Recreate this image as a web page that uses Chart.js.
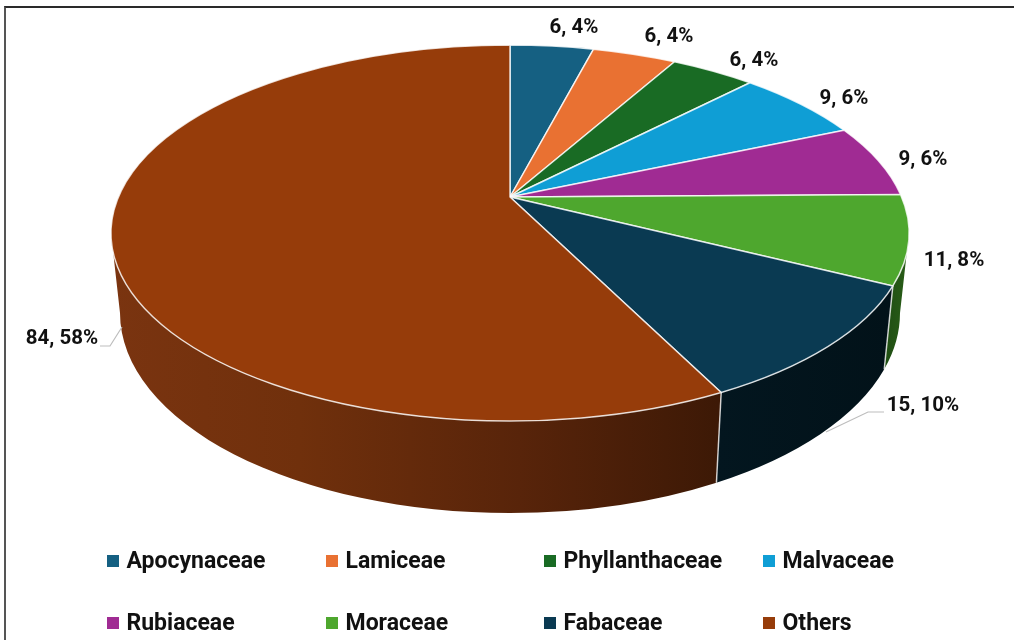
<!DOCTYPE html>
<html>
<head>
<meta charset="utf-8">
<script src="https://cdn.jsdelivr.net/npm/chart.js@4"></script>
<style>
html,body{margin:0;padding:0;background:#fff;width:1014px;height:640px;overflow:hidden}
#frame{position:absolute;left:4px;top:6px;width:1010px;height:634px;border-left:2px solid #555;border-top:2px solid #2a2a2a;box-sizing:border-box}
canvas{position:absolute;left:0;top:0}
</style>
</head>
<body>
<div id="frame"></div>
<canvas id="c" width="1014" height="640"></canvas>
<script>
const categories = ["Apocynaceae","Lamiceae","Phyllanthaceae","Malvaceae","Rubiaceae","Moraceae","Fabaceae","Others"];
const counts = [6,6,6,9,9,11,15,84];
const percents = [4,4,4,6,6,8,10,58];
const colors = ["#156082","#E97132","#196B24","#0F9ED5","#A02B93","#4EA72E","#0A3A52","#963C0A"];

// Projection of the tilted disc
const TOP = {cx:510, cy:233, rx:399, ry:188};
const BOT = {cx:510, cy:313, rx:390, ry:200};
const HUB = {x:510, y:197};
const PERSPECTIVE = 0.185;
const warp = a => { const th = a + Math.PI/2; return th - PERSPECTIVE*Math.sin(th); };
const rim = (e,t) => [e.cx + e.rx*Math.sin(t), e.cy - e.ry*Math.cos(t)];

// Wall shading per slice: [x, colour] stops
const wallStops = {
  5:[[880,"#1d4a12"],[910,"#2a5f18"]],
  6:[[718,"#03161f"],[890,"#021219"]],
  7:[[111,"#7a3410"],[300,"#70300c"],[520,"#58240a"],[718,"#3d1906"]]
};
const labelCentres = [[574,28],[669,37],[754,61],[844,99],[923,160],[954,261],[923,406],[62,339]];
const leaders = [null,null,null,null,null,null,[[884,412],[868,412],[826,432]],[[100,346],[110,346],[122,327]]];
const legendCols = [107,326,544,763];
const legendRows = [561,623];
const FONT_LABEL = 'bold 20.5px Roboto';
const FONT_LEGEND = 'bold 23px Roboto';

function drawSlice(ctx){
  const t1 = warp(this.startAngle), t2 = warp(this.endAngle);
  const o = this.options;
  ctx.save();
  ctx.lineJoin = 'round';
  ctx.beginPath();
  ctx.moveTo(HUB.x,HUB.y);
  ctx.lineTo(...rim(TOP,t1));
  ctx.ellipse(TOP.cx,TOP.cy,TOP.rx,TOP.ry,0,t1-Math.PI/2,t2-Math.PI/2);
  ctx.closePath();
  ctx.fillStyle = o.backgroundColor;
  ctx.fill();
  ctx.strokeStyle = o.borderColor;
  ctx.lineWidth = o.borderWidth;
  ctx.stroke();
  ctx.restore();
}

const view3d = {
  id:'view3d',
  afterDatasetsUpdate(chart){
    chart.getDatasetMeta(0).data.forEach(el => { el.draw = drawSlice; });
  },
  beforeDatasetsDraw(chart){
    const ctx = chart.ctx, arcs = chart.getDatasetMeta(0).data;
    const lo = Math.PI/2, hi = 3*Math.PI/2;
    arcs.forEach((el,i) => {
      const a = Math.max(warp(el.startAngle),lo), b = Math.min(warp(el.endAngle),hi);
      if (b <= a) return;
      const g = ctx.createLinearGradient(wallStops[i][0][0],0,wallStops[i][wallStops[i].length-1][0],0);
      const s0 = wallStops[i][0][0], s1 = wallStops[i][wallStops[i].length-1][0];
      wallStops[i].forEach(s => g.addColorStop((s[0]-s0)/(s1-s0), s[1]));
      ctx.save();
      ctx.beginPath();
      ctx.ellipse(TOP.cx,TOP.cy,TOP.rx,TOP.ry,0,a-lo,b-lo);
      ctx.lineTo(...rim(BOT,b));
      ctx.ellipse(BOT.cx,BOT.cy,BOT.rx,BOT.ry,0,b-lo,a-lo,true);
      ctx.closePath();
      ctx.fillStyle = g;
      ctx.fill();
      ctx.restore();
      if (a > lo){
        ctx.save();
        ctx.beginPath();
        ctx.moveTo(...rim(TOP,a));
        ctx.lineTo(...rim(BOT,a));
        ctx.strokeStyle = 'rgba(255,255,255,0.75)';
        ctx.lineWidth = 1.5;
        ctx.stroke();
        ctx.restore();
      }
    });
  },
  afterDatasetsDraw(chart){
    const ctx = chart.ctx;
    ctx.save();
    // leader lines
    leaders.forEach(pts => {
      if (!pts) return;
      ctx.beginPath();
      pts.forEach((p,i) => i ? ctx.lineTo(p[0],p[1]) : ctx.moveTo(p[0],p[1]));
      ctx.strokeStyle = '#bdbdbd';
      ctx.lineWidth = 1.2;
      ctx.stroke();
    });
    // data labels
    ctx.font = FONT_LABEL;
    ctx.fillStyle = '#111';
    ctx.textAlign = 'center';
    ctx.textBaseline = 'middle';
    categories.forEach((c,i) => {
      ctx.fillText(counts[i] + ', ' + percents[i] + '%', labelCentres[i][0], labelCentres[i][1]);
    });
    // legend
    ctx.font = FONT_LEGEND;
    ctx.textAlign = 'left';
    categories.forEach((c,i) => {
      const x = legendCols[i%4], y = legendRows[Math.floor(i/4)];
      ctx.fillStyle = colors[i];
      ctx.fillRect(x, y-6, 12, 12);
      ctx.fillStyle = '#111';
      ctx.fillText(c, x+19.5, y+1.5);
    });
    ctx.restore();
  }
};

new Chart(document.getElementById('c'),{
  type:'pie',
  data:{labels:categories,datasets:[{data:counts,backgroundColor:colors,borderColor:'rgba(255,255,255,0.8)',borderWidth:1.5}]},
  options:{
    responsive:false,
    animation:false,
    events:[],
    rotation:0,
    plugins:{legend:{display:false},tooltip:{enabled:false},title:{display:false}}
  },
  plugins:[view3d]
});
</script>
</body>
</html>
